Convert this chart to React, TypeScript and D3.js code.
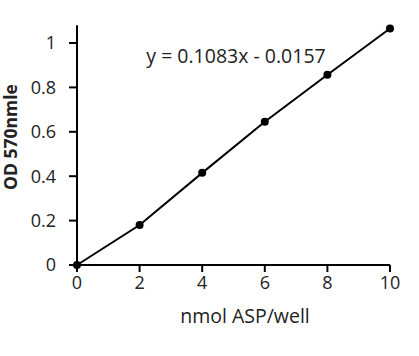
import React from "react";
import * as d3 from "d3";

const xValues = [0, 2, 4, 6, 8, 10];
const yValues = [0, 0.18, 0.415, 0.645, 0.857, 1.065];
const xTicks = [0, 2, 4, 6, 8, 10];
const yTicks = [0, 0.2, 0.4, 0.6, 0.8, 1];
const equation = "y = 0.1083x - 0.0157";
const xTitle = "nmol ASP/well";
const yTitle = "OD 570nmle";

export default function App() {
  const W = 419, H = 356;
  const x = d3.scaleLinear().domain([0, 10]).range([77, 390]);
  const y = d3.scaleLinear().domain([0, 1]).range([265, 43]);
  const yTop = y(1.08);
  const pts = xValues.map((v, i) => [x(v), y(yValues[i])] as [number, number]);
  const line = d3.line()(pts) || "";
  const font = "'Open Sans', sans-serif";
  return (
    <svg width={W} height={H} style={{ position: "absolute", left: 0, top: 0, background: "#fff" }}>
      <g stroke="#000" strokeWidth={2} fill="none">
        <line x1={x(0)} x2={x(0)} y1={yTop} y2={y(0)} />
        <line x1={x(0) - 8} x2={x(10)} y1={y(0)} y2={y(0)} />
        {yTicks.map((t) => (
          <line key={"yt" + t} x1={x(0) - 8} x2={x(0)} y1={y(t)} y2={y(t)} />
        ))}
        {xTicks.map((t) => (
          <line key={"xt" + t} x1={x(t)} x2={x(t)} y1={y(0)} y2={y(0) + 7} />
        ))}
        <path d={line} />
      </g>
      {pts.map((p, i) => (
        <circle key={i} cx={p[0]} cy={p[1]} r={4} fill="#000" />
      ))}
      <g fontFamily={font} fontSize={18} fill="#222">
        {yTicks.map((t) => (
          <text key={"yl" + t} x={56} y={y(t)} dy="0.35em" textAnchor="end">
            {d3.format("~g")(t)}
          </text>
        ))}
        {xTicks.map((t) => (
          <text key={"xl" + t} x={x(t)} y={289} textAnchor="middle">
            {t}
          </text>
        ))}
        <text x={236} y={63} textAnchor="middle" fontSize={19.5}>{equation}</text>
        <text x={245} y={323} textAnchor="middle" fontSize={19.5}>{xTitle}</text>
        <text
          transform={`translate(17, 137) rotate(-90)`}
          textAnchor="middle"
          fontWeight="bold"
          fontSize={17.5}
        >
          {yTitle}
        </text>
      </g>
    </svg>
  );
}
